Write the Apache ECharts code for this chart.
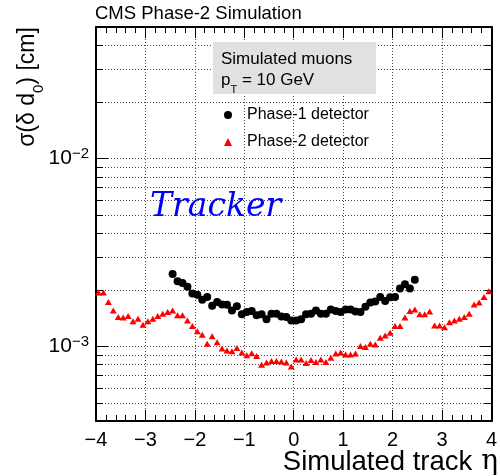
<!DOCTYPE html>
<html>
<head>
<meta charset="utf-8">
<script src="https://cdn.jsdelivr.net/npm/echarts@6/dist/echarts.min.js"></script>
<style>
html,body{margin:0;padding:0;background:#fff;}
#chart{width:500px;height:476px;}
</style>
</head>
<body>
<div id="chart"></div>
<script>
// ---- data ----
var etaPhase2 = [-3.95,-3.85,-3.75,-3.65,-3.55,-3.45,-3.35,-3.25,-3.15,-3.05,
  -2.95,-2.85,-2.75,-2.65,-2.55,-2.45,-2.35,-2.25,-2.15,-2.05,
  -1.95,-1.85,-1.75,-1.65,-1.55,-1.45,-1.35,-1.25,-1.15,-1.05,
  -0.95,-0.85,-0.75,-0.65,-0.55,-0.45,-0.35,-0.25,-0.15,-0.05,
  0.05,0.15,0.25,0.35,0.45,0.55,0.65,0.75,0.85,0.95,
  1.05,1.15,1.25,1.35,1.45,1.55,1.65,1.75,1.85,1.95,
  2.05,2.15,2.25,2.35,2.45,2.55,2.65,2.75,2.85,2.95,
  3.05,3.15,3.25,3.35,3.45,3.55,3.65,3.75,3.85,3.95];
var sigmaPhase2 = [0.00193,0.00193,0.00172,0.00155,0.00143,0.00142,0.00145,0.00136,0.00140,0.00130,
  0.00136,0.00140,0.00145,0.00149,0.00152,0.00155,0.00146,0.00146,0.00137,0.00128,
  0.00120,0.00115,0.00103,0.00113,0.00105,0.000972,0.000948,0.000940,0.000979,0.000926,
  0.000896,0.000918,0.000888,0.000796,0.000819,0.000835,0.000835,0.000829,0.000819,0.000780,
  0.000849,0.000849,0.000815,0.000846,0.000825,0.000849,0.000825,0.000867,0.000914,0.000926,
  0.000903,0.000903,0.000914,0.001003,0.000992,0.00103,0.00102,0.00111,0.00114,0.00118,
  0.00128,0.00128,0.00142,0.00154,0.00157,0.00148,0.00148,0.00153,0.00129,0.00129,
  0.00126,0.00134,0.00137,0.00140,0.00143,0.00149,0.00167,0.00171,0.00183,0.00196];
var etaPhase1 = [-2.45,-2.35,-2.25,-2.15,-2.05,-1.95,-1.85,-1.75,-1.65,-1.55,
  -1.45,-1.35,-1.25,-1.15,-1.05,-0.95,-0.85,-0.75,-0.65,-0.55,
  -0.45,-0.35,-0.25,-0.15,-0.05,0.05,0.15,0.25,0.35,0.45,
  0.55,0.65,0.75,0.85,0.95,1.05,1.15,1.25,1.35,1.45,
  1.55,1.65,1.75,1.85,1.95,2.05,2.15,2.25,2.35,2.45];
var sigmaPhase1 = [0.00242,0.00222,0.00217,0.00207,0.00191,0.00188,0.00177,0.00183,0.00164,0.00172,
  0.00167,0.00166,0.00155,0.00163,0.00148,0.00152,0.00154,0.00146,0.00148,0.00139,
  0.00149,0.00149,0.00144,0.00143,0.00137,0.00137,0.00139,0.00148,0.00149,0.00155,
  0.00149,0.00149,0.00157,0.00154,0.00152,0.00157,0.00157,0.00153,0.00152,0.00162,
  0.00171,0.00173,0.00183,0.00174,0.00182,0.00183,0.00203,0.00214,0.00203,0.00226];
var xTickLabels = ['\u22124','\u22123','\u22122','\u22121','0','1','2','3','4'];
var yGridValues = [0.0005,0.0006,0.0007,0.0008,0.0009,0.001,0.002,0.003,0.004,0.005,0.006,0.007,0.008,0.009,0.01,0.02,0.03,0.04];
var yMajorValues = [0.001, 0.01];
var yMin = 0.0004, yMax = 0.05;
var seriesNames = ['Phase-1 detector', 'Phase-2 detector'];

// ---- build ----
var FONT = 'Liberation Sans, Arial, Helvetica, sans-serif';
function pairs(xs, ys){ return xs.map(function(x,i){ return [x, ys[i]]; }); }
var gridData = yGridValues.map(function(v){ return [0, v, yMajorValues.indexOf(v) >= 0 ? 1 : 0]; });

var chart = echarts.init(document.getElementById('chart'), null, {renderer:'canvas'});
var option = {
  animation: false,
  backgroundColor: '#fff',
  grid: {left: 96, right: 6, top: 27, bottom: 55, containLabel: false},
  xAxis: [{
    type: 'value', min: -4, max: 4, interval: 1, position: 'bottom',
    axisLine: {show: true, onZero: false, lineStyle: {color: '#000', width: 2}},
    axisTick: {show: true, inside: true, length: 11, lineStyle: {color: '#000', width: 1}},
    minorTick: {show: true, splitNumber: 5, length: 6, lineStyle: {color: '#000', width: 1}},
    splitLine: {show: true, lineStyle: {color: '#444', width: 1, type: [1, 2]}},
    axisLabel: {
      show: true, margin: 9, fontSize: 20, fontFamily: FONT, color: '#000',
      formatter: function(v){ return xTickLabels[Math.round(v) + 4]; }
    }
  }, {
    type: 'value', min: -4, max: 4, interval: 1, position: 'top',
    axisLine: {show: true, onZero: false, lineStyle: {color: '#000', width: 2}},
    axisTick: {show: true, inside: true, length: 11, lineStyle: {color: '#000', width: 1}},
    minorTick: {show: true, splitNumber: 5, length: 6, lineStyle: {color: '#000', width: 1}},
    splitLine: {show: false},
    axisLabel: {show: false}
  }],
  yAxis: [{
    type: 'log', logBase: 10, min: yMin, max: yMax, position: 'left',
    axisLine: {show: true, onZero: false, lineStyle: {color: '#000', width: 2}},
    axisTick: {show: false},
    splitLine: {show: false},
    axisLabel: {
      show: true, margin: 7, color: '#000',
      showMinLabel: true, showMaxLabel: true,
      formatter: function(v){
        var l = Math.log(v) / Math.LN10;
        if (Math.abs(l - Math.round(l)) > 1e-6) return '';
        return '{b|10}{s|\u2212' + Math.abs(Math.round(l)) + '}';
      },
      rich: {
        b: {fontSize: 21, fontFamily: FONT, color: '#000', lineHeight: 24},
        s: {fontSize: 15, fontFamily: FONT, color: '#000', lineHeight: 15, verticalAlign: 'top'}
      }
    }
  }, {
    type: 'log', logBase: 10, min: yMin, max: yMax, position: 'right',
    axisLine: {show: true, onZero: false, lineStyle: {color: '#000', width: 2}},
    axisTick: {show: false}, splitLine: {show: false}, axisLabel: {show: false}
  }],
  legend: {
    orient: 'vertical', left: 219, top: 102, itemWidth: 8, itemHeight: 8, itemGap: 11,
    data: [{name: seriesNames[0], icon: 'circle'}, {name: seriesNames[1], icon: 'triangle'}],
    textStyle: {fontSize: 16, fontFamily: FONT, color: '#000', padding: [0, 0, 0, 10]},
    selectedMode: false
  },
  graphic: [
    {type: 'rect', z: 50, shape: {x: 213, y: 42, width: 163, height: 52}, style: {fill: '#e1e1e1'}},
    {type: 'text', z: 51, x: 221, y: 59, style: {text: 'Simulated muons', fontSize: 17, fontFamily: FONT, fill: '#000', verticalAlign: 'middle', align: 'left'}},
    {type: 'text', z: 51, x: 221, y: 70, style: {
      text: '{a|p}{t|T}{a| = 10 GeV}', verticalAlign: 'top', align: 'left',
      rich: {
        a: {fontSize: 17, fontFamily: FONT, fill: '#000', color: '#000', lineHeight: 20},
        t: {fontSize: 11, fontFamily: FONT, fill: '#000', color: '#000', lineHeight: 12, verticalAlign: 'top', padding: [14, 0, 0, 0]}
      }}},
    {type: 'text', z: 51, x: 150, y: 207, style: {text: 'Tracker', fontSize: 33, fontStyle: 'italic', fontFamily: 'DejaVu Serif, serif', fill: '#0000ff', verticalAlign: 'middle', align: 'left'}},
    {type: 'text', z: 51, x: 95, y: 14, style: {text: 'CMS Phase-2 Simulation', fontSize: 18.5, fontFamily: FONT, fill: '#000', verticalAlign: 'middle', align: 'left'}},
    {type: 'text', z: 51, x: 498, y: 462, style: {
      text: '{a|Simulated track}{e| \u03b7}', align: 'right', verticalAlign: 'middle',
      rich: {
        a: {fontSize: 27.5, fontFamily: FONT, color: '#000', fill: '#000'},
        e: {fontSize: 28, fontFamily: 'DejaVu Serif, Liberation Serif, serif', color: '#000', fill: '#000'}
      }}},
    {type: 'text', z: 51, x: 28, y: 87, rotation: Math.PI / 2, style: {
      text: '{a|\u03c3(\u03b4 d}{s|0}{a|) [cm]}', align: 'center', verticalAlign: 'middle',
      rich: {
        a: {fontSize: 23, fontFamily: FONT, color: '#000', fill: '#000', lineHeight: 25},
        s: {fontSize: 15, fontFamily: FONT, color: '#000', fill: '#000', lineHeight: 15, verticalAlign: 'top', padding: [16, 0, 0, 0]}
      }}}
  ],
  series: [{
    type: 'custom', name: 'ygrid', z: 1, silent: true, clip: false,
    xAxisIndex: 0, yAxisIndex: 0,
    data: gridData,
    renderItem: function(params, api){
      var y = Math.round(api.coord([0, api.value(1)])[1]) + 0.5;
      var cs = params.coordSys;
      var len = api.value(2) === 1 ? 12 : 7;
      return {type: 'group', children: [
        {type: 'line', shape: {x1: cs.x, y1: y, x2: cs.x + cs.width, y2: y}, style: {stroke: '#444', lineWidth: 1, lineDash: [1, 2]}},
        {type: 'line', shape: {x1: cs.x, y1: y, x2: cs.x + len, y2: y}, style: {stroke: '#000', lineWidth: 1}},
        {type: 'line', shape: {x1: cs.x + cs.width - len, y1: y, x2: cs.x + cs.width, y2: y}, style: {stroke: '#000', lineWidth: 1}}
      ]};
    }
  }, {
    type: 'scatter', name: seriesNames[0], z: 5, symbol: 'circle', symbolSize: 8,
    itemStyle: {color: '#000', opacity: 1}, data: pairs(etaPhase1, sigmaPhase1)
  }, {
    type: 'scatter', name: seriesNames[1], z: 4, symbol: 'triangle', symbolSize: [7, 6],
    itemStyle: {color: '#ff0000', opacity: 1}, data: pairs(etaPhase2, sigmaPhase2)
  }]
};
chart.setOption(option);
</script>
</body>
</html>
